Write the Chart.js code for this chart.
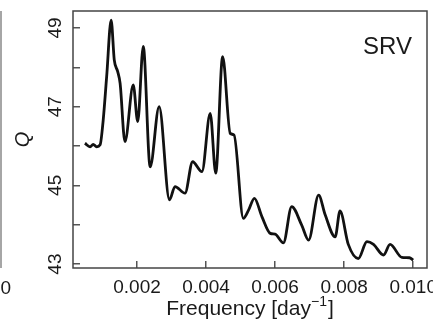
<!DOCTYPE html>
<html lang="en">
<head>
<meta charset="UTF-8">
<title>SRV Q spectrum</title>
<script src="https://cdn.jsdelivr.net/npm/chart.js"></script>
<style>
    html, body { margin: 0; padding: 0; background: #fff; }
    canvas { display: block; }
</style>
</head>
<body>
<canvas id="chart" width="433" height="324"></canvas>
<script>
// frequency [day^-1] and Q
const freq = [
    0.00049, 0.00064, 0.00073, 0.00083, 0.00093, 0.00102, 0.00112, 0.00125, 0.00134, 0.00144,
    0.00151, 0.00165, 0.00189, 0.00202, 0.00218, 0.00238, 0.00264, 0.00294, 0.00310, 0.00339,
    0.00361, 0.00388, 0.00412, 0.00428, 0.00448, 0.00470, 0.00481, 0.00508, 0.00523, 0.00540,
    0.00562, 0.00586, 0.00600, 0.00624, 0.00648, 0.00677, 0.00697, 0.00726, 0.00745, 0.00774,
    0.00788, 0.00812, 0.00841, 0.00866, 0.00885, 0.00914, 0.00933, 0.00967, 0.00989, 0.01000
];
const qValues = [
    46.07, 45.98, 46.04, 45.98, 46.03, 46.66, 47.76, 49.20, 48.19, 47.89,
    47.59, 46.11, 47.55, 46.62, 48.53, 45.47, 47.00, 44.63, 44.97, 44.80,
    45.60, 45.35, 46.83, 45.31, 48.27, 46.32, 46.28, 44.16, 44.37, 44.67,
    44.20, 43.78, 43.76, 43.54, 44.46, 43.99, 43.61, 44.75, 44.25, 43.69,
    44.35, 43.50, 43.14, 43.57, 43.50, 43.23, 43.50, 43.17, 43.16, 43.10
];

const xTickValues = [0.002, 0.004, 0.006, 0.008, 0.010];
const yTickValues = [43, 44, 45, 46, 47, 48, 49];
const yTickLabels = ['43', '', '45', '', '47', '', '49'];
const panelLabel = 'SRV';
const xTitle = 'Frequency [day';
const xTitleSup = '\u22121';
const xTitleEnd = ']';
const yTitle = 'Q';

const FONT = "'Liberation Sans', Arial, Helvetica, sans-serif";
const TEXT = '#1a1a1a';

const decorations = {
    id: 'decorations',
    afterDraw(chart) {
        const ctx = chart.ctx;
        const area = chart.chartArea;
        const yScale = chart.scales.y;
        ctx.save();

        // plot frame
        ctx.strokeStyle = '#444';
        ctx.lineWidth = 1.5;
        ctx.strokeRect(area.left, area.top, area.right - area.left, area.bottom - area.top);

        // edge of the neighbouring panel
        ctx.strokeStyle = '#888';
        ctx.beginPath();
        ctx.moveTo(1, area.top);
        ctx.lineTo(1, area.bottom);
        ctx.stroke();
        ctx.fillStyle = TEXT;
        ctx.font = '19px ' + FONT;
        ctx.textAlign = 'left';
        ctx.textBaseline = 'alphabetic';
        ctx.fillText('0', 0.5, 294);

        // rotated y tick labels
        ctx.textAlign = 'center';
        ctx.textBaseline = 'middle';
        yTickValues.forEach((v, i) => {
            if (!yTickLabels[i]) return;
            const y = yScale.getPixelForValue(v);
            ctx.save();
            ctx.translate(area.left - 17, y);
            ctx.rotate(-Math.PI / 2);
            ctx.fillText(yTickLabels[i], 0, 0);
            ctx.restore();
        });

        // x axis title with superscript
        ctx.textAlign = 'left';
        ctx.textBaseline = 'alphabetic';
        const mainFont = '21px ' + FONT;
        const supFont = '14px ' + FONT;
        ctx.font = mainFont;
        const w1 = ctx.measureText(xTitle).width;
        const w3 = ctx.measureText(xTitleEnd).width;
        ctx.font = supFont;
        const w2 = ctx.measureText(xTitleSup).width;
        let x = (area.left + area.right) / 2 - (w1 + w2 + w3 + 1) / 2;
        const base = 315;
        ctx.font = mainFont;
        ctx.fillText(xTitle, x, base);
        x += w1;
        ctx.font = supFont;
        ctx.fillText(xTitleSup, x, base - 9);
        x += w2 + 1;
        ctx.font = mainFont;
        ctx.fillText(xTitleEnd, x, base);

        // panel label
        ctx.font = '24px ' + FONT;
        ctx.textAlign = 'right';
        ctx.fillText(panelLabel, area.right - 15, area.top + 43);

        ctx.restore();
    }
};

new Chart(document.getElementById('chart'), {
    type: 'line',
    data: {
        datasets: [{
            data: freq.map((f, i) => ({ x: f, y: qValues[i] })),
            borderColor: '#111',
            borderWidth: 2.8,
            pointRadius: 0,
            cubicInterpolationMode: 'monotone',
            fill: false
        }]
    },
    options: {
        responsive: false,
        animation: false,
        devicePixelRatio: 1,
        layout: { padding: { left: 0, right: 6, top: 11, bottom: 0 } },
        plugins: {
            legend: { display: false },
            tooltip: { enabled: false }
        },
        scales: {
            x: {
                type: 'linear',
                min: 0.000145,
                max: 0.0104,
                afterBuildTicks: s => { s.ticks = xTickValues.map(v => ({ value: v })); },
                afterFit: s => { s.height = 56; s.paddingLeft = 0; s.paddingRight = 0; },
                grid: { drawOnChartArea: false, drawTicks: true, tickLength: -7, color: '#555', lineWidth: 1.5 },
                border: { display: false },
                ticks: {
                    autoSkip: false,
                    maxRotation: 0,
                    minRotation: 0,
                    padding: 15,
                    color: TEXT,
                    font: { family: FONT, size: 19 },
                    callback: v => v.toFixed(3)
                }
            },
            y: {
                min: 42.9,
                max: 49.43,
                afterBuildTicks: s => { s.ticks = yTickValues.map(v => ({ value: v })); },
                afterFit: s => { s.width = 73; s.paddingTop = 0; s.paddingBottom = 0; },
                grid: { drawOnChartArea: false, drawTicks: true, tickLength: -7, color: '#555', lineWidth: 1.5 },
                border: { display: false },
                ticks: { display: false },
                title: {
                    display: true,
                    text: yTitle,
                    color: TEXT,
                    font: { family: FONT, size: 20, style: 'italic' },
                    padding: { top: 11, bottom: 0 }
                }
            }
        }
    },
    plugins: [decorations]
});
</script>
</body>
</html>
